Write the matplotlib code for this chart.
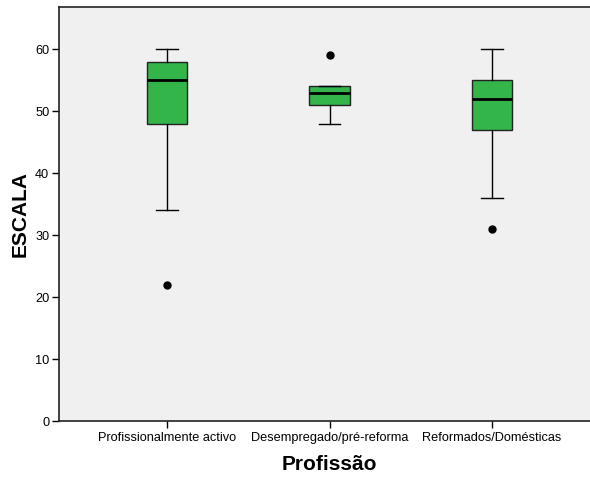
import matplotlib
matplotlib.use("Agg")
import matplotlib.pyplot as plt

plt.rcParams['font.family'] = ['Liberation Sans', 'DejaVu Sans']

# Boxplot summary
categories = ['Profissionalmente activo', 'Desempregado/pré-reforma', 'Reformados/Domésticas']
whisker_low = [34, 48, 36]
q1 = [48, 51, 47]
median = [55, 53, 52]
q3 = [58, 54, 55]
whisker_high = [60, 54, 60]
outliers = [[22], [59], [31]]

stats = []
for i, name in enumerate(categories):
    stats.append({
        'label': name,
        'whislo': whisker_low[i],
        'q1': q1[i],
        'med': median[i],
        'q3': q3[i],
        'whishi': whisker_high[i],
        'fliers': outliers[i],
    })

fig = plt.figure(figsize=(5.9, 4.78), dpi=100)
ax = fig.add_axes([59 / 590, 57 / 478, 541 / 590, 414 / 478])
ax.set_facecolor('#f0f0f0')

ax.bxp(stats, positions=[0, 1, 2], widths=0.25, patch_artist=True,
       capwidths=0.13,
       boxprops=dict(facecolor='#33b54a', edgecolor='#222222', linewidth=1.0),
       medianprops=dict(color='black', linewidth=2.0),
       whiskerprops=dict(color='black', linewidth=1.0),
       capprops=dict(color='black', linewidth=1.0),
       flierprops=dict(marker='o', markerfacecolor='black', markeredgecolor='black',
                       markersize=5))

ax.set_xlim(-0.665, 2.665)
ax.set_ylim(0, 66.8)
ax.set_yticks([0, 10, 20, 30, 40, 50, 60])
ax.set_xticks([0, 1, 2])
ax.set_xticklabels(categories)
ax.tick_params(axis='both', labelsize=9.2, length=5, width=1, color='black')
ax.tick_params(axis='x', pad=3)
ax.tick_params(axis='y', pad=2)

for side in ['left', 'bottom', 'top']:
    ax.spines[side].set_linewidth(1.2)
    ax.spines[side].set_color('#222222')
ax.spines['right'].set_visible(False)

ax.set_xlabel('Profissão', fontsize=15, fontweight='bold', labelpad=8)
ax.set_ylabel('ESCALA', fontsize=15, fontweight='bold', labelpad=4)

fig.savefig('out.png', dpi=100, facecolor='white')
